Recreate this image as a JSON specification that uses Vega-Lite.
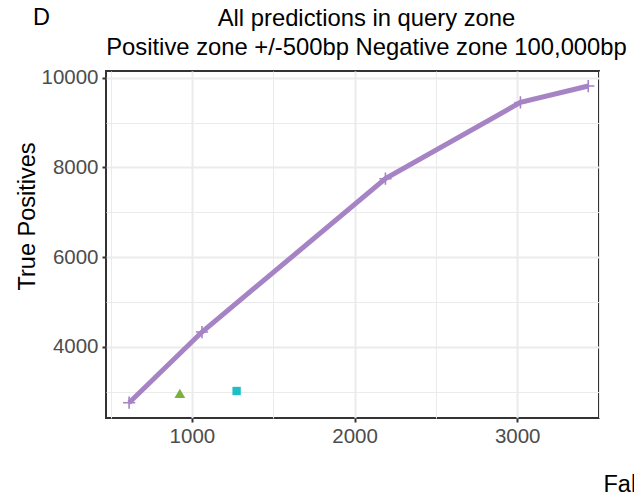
{
  "$schema": "https://vega.github.io/schema/vega-lite/v6.json",
  "autosize": {"type": "pad"},
  "padding": {"left": 14, "top": 5, "right": 0, "bottom": 0},
  "background": "white",
  "config": {
    "font": "Liberation Sans",
    "view": {"stroke": "#333333", "strokeWidth": 2},
    "axis": {
      "domain": false,
      "gridColor": "#ebebeb",
      "tickColor": "#333333",
      "tickWidth": 2,
      "tickSize": 4,
      "labelColor": "#4d4d4d",
      "labelFontSize": 20.5,
      "labelPadding": 4,
      "titleColor": "#000000",
      "titleFontSize": 23.5,
      "titleFontWeight": "normal"
    },
    "title": {"color": "#000000", "fontWeight": "normal", "fontSize": 23.5}
  },
  "title": {"text": "D", "anchor": "start", "frame": "bounds", "dx": 19, "offset": -24},
  "datasets": {
    "curve": [
      {"method": "method_1", "fp": 614, "tp": 2751},
      {"method": "method_1", "fp": 1062, "tp": 4328},
      {"method": "method_1", "fp": 2190, "tp": 7748},
      {"method": "method_1", "fp": 3020, "tp": 9449},
      {"method": "method_1", "fp": 3437, "tp": 9815}
    ],
    "single": [
      {"method": "method_2", "fp": 926, "tp": 2961},
      {"method": "method_3", "fp": 1275, "tp": 3012}
    ]
  },
  "vconcat": [
    {
      "width": 493,
      "height": 347,
      "title": {
        "text": ["All predictions in query zone", "Positive zone +/-500bp Negative zone 100,000bp"],
        "anchor": "middle",
        "fontSize": 23.8,
        "dx": 14,
        "lineHeight": 29,
        "offset": 8
      },
      "encoding": {
        "x": {
          "field": "fp",
          "type": "quantitative",
          "scale": {"domain": [472, 3503], "nice": false, "zero": false},
          "axis": {
            "title": "False Positives",
            "values": [500, 1000, 1500, 2000, 2500, 3000, 3500],
            "format": "d",
            "labelExpr": "datum.value % 1000 === 0 ? datum.label : ''",
            "tickOpacity": {"condition": {"test": "datum.value % 1000 === 0", "value": 1}, "value": 0},
            "gridWidth": {"condition": {"test": "datum.value % 1000 === 0", "value": 2}, "value": 1},
            "titleAnchor": null,
            "titleAlign": "left",
            "titleBaseline": "alphabetic",
            "titleX": 497,
            "titleY": 73
          }
        },
        "y": {
          "field": "tp",
          "type": "quantitative",
          "scale": {"domain": [2410, 10150], "nice": false, "zero": false},
          "axis": {
            "title": "True Positives",
            "values": [3000, 4000, 5000, 6000, 7000, 8000, 9000, 10000],
            "format": "d",
            "labelExpr": "datum.value % 2000 === 0 ? datum.label : ''",
            "tickOpacity": {"condition": {"test": "datum.value % 2000 === 0", "value": 1}, "value": 0},
            "gridWidth": {"condition": {"test": "datum.value % 2000 === 0", "value": 2}, "value": 1},
            "titleAngle": -90,
            "titleAlign": "center",
            "titleBaseline": "middle",
            "titleX": -79,
            "titleY": 145
          }
        }
      },
      "layer": [
        {
          "data": {"name": "curve"},
          "mark": {"type": "line", "color": "#a583c4", "strokeWidth": 5}
        },
        {
          "data": {"name": "curve"},
          "mark": {
            "type": "point",
            "shape": "M-1,0L1,0M0,-1L0,1",
            "filled": false,
            "color": "#a583c4",
            "strokeWidth": 1.6,
            "size": 150,
            "opacity": 1
          }
        },
        {
          "data": {"name": "single"},
          "mark": {"type": "point", "filled": true, "opacity": 1},
          "encoding": {
            "color": {
              "field": "method",
              "type": "nominal",
              "scale": {"domain": ["method_2", "method_3"], "range": ["#7ab040", "#1dbec8"]},
              "legend": null
            },
            "shape": {
              "field": "method",
              "type": "nominal",
              "scale": {"domain": ["method_2", "method_3"], "range": ["triangle-up", "square"]},
              "legend": null
            },
            "size": {
              "field": "method",
              "type": "nominal",
              "scale": {"domain": ["method_2", "method_3"], "range": [115, 70]},
              "legend": null
            }
          }
        }
      ]
    }
  ]
}
